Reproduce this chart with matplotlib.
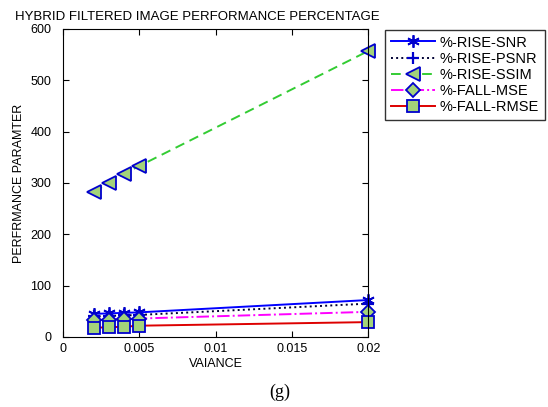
import numpy as np
import matplotlib
matplotlib.use('Agg')
import matplotlib.pyplot as plt

plt.rcParams['font.family'] = ['Liberation Sans', 'DejaVu Sans']

variance = [0.002, 0.003, 0.004, 0.005, 0.02]
rise_snr = [45, 46, 47, 48, 72]
rise_psnr = [40, 41, 42, 43, 65]
rise_ssim = [282, 300, 318, 333, 557]
fall_mse = [33, 34, 35, 36, 49]
fall_rmse = [18, 19, 20, 22, 29]

labels = ['%-RISE-SNR', '%-RISE-PSNR', '%-RISE-SSIM', '%-FALL-MSE', '%-FALL-RMSE']
xticks = [0, 0.005, 0.01, 0.015, 0.02]
xticklabels = ['0', '0.005', '0.01', '0.015', '0.02']

edge = '#0000cc'
face = '#a3d37a'

fig = plt.figure(figsize=(5.48, 4.07), dpi=100)
ax = fig.add_axes([0.115, 0.172, 0.557, 0.757])

ax.plot(variance, rise_snr, '-', color='#0000ff', lw=1.4, marker=(6, 2, 0),
        ms=9, mec=edge, mew=1.3, label=labels[0], clip_on=False)
ax.plot(variance, rise_psnr, ':', color='#000033', lw=1.4, marker='+',
        ms=9, mec=edge, mew=1.6, label=labels[1], clip_on=False)
ax.plot(variance, rise_ssim, '--', color='#33cc33', lw=1.4, marker='<',
        ms=9.5, mec=edge, mfc=face, mew=1.3, dashes=(5, 3), label=labels[2],
        clip_on=False)
ax.plot(variance, fall_mse, '-.', color='#ff00ff', lw=1.4, marker='D',
        ms=7, mec=edge, mfc=face, mew=1.3, label=labels[3], clip_on=False)
ax.plot(variance, fall_rmse, '-', color='#dd0000', lw=1.4, marker='s',
        ms=9, mec=edge, mfc=face, mew=1.3, label=labels[4], clip_on=False)

ax.set_xlim(0, 0.02)
ax.set_ylim(0, 600)
ax.set_xticks(xticks)
ax.set_xticklabels(xticklabels)
ax.set_yticks(np.arange(0, 601, 100))
ax.tick_params(direction='in', top=True, right=True, labelsize=9, length=4)
ax.tick_params(axis='x', pad=4.5)
ax.tick_params(axis='y', pad=8.5)
for s in ax.spines.values():
    s.set_linewidth(0.8)

ax.set_xlabel('VAIANCE', fontsize=9, labelpad=2)
ax.set_ylabel('PERFRMANCE PARAMTER', fontsize=9, labelpad=4)
fig.text(0.36, 0.959, 'HYBRID FILTERED IMAGE PERFORMANCE PERCENTAGE',
         fontsize=9.5, ha='center', va='center')

fig.legend(loc='upper left', bbox_to_anchor=(0.7026, 0.927), fontsize=10.5,
           frameon=True, fancybox=False, edgecolor='black', handlelength=3.0,
           handletextpad=0.35, labelspacing=0.15, borderpad=0.4, borderaxespad=0)

fig.text(0.51, 0.035, '(g)', fontsize=13, family=['Liberation Serif', 'DejaVu Serif'],
         ha='center', va='center')

fig.savefig('out.png', dpi=100)
